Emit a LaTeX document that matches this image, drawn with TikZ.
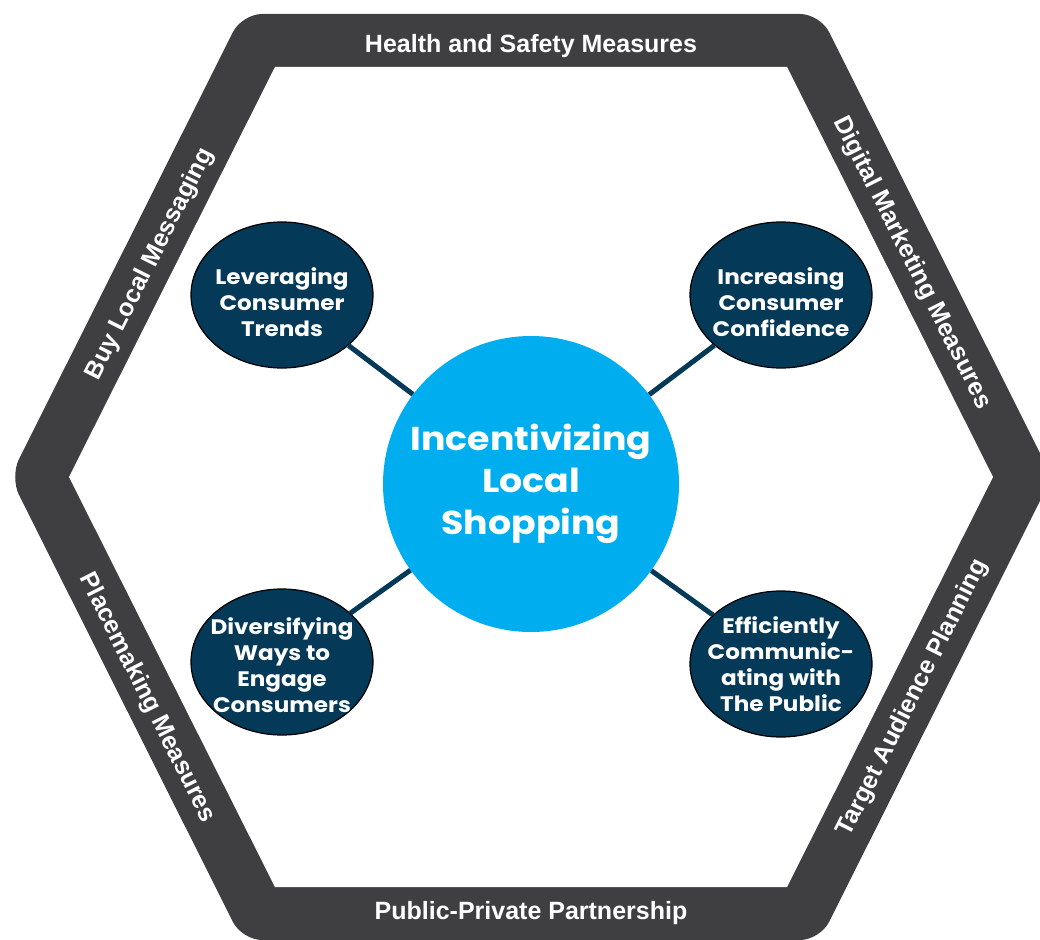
\documentclass[tikz,border=0pt]{standalone}
\usepackage{fontspec}
\setmainfont{Liberation Sans}
\newfontfamily\popfont{Poppins}[FakeStretch=1.1]
\usetikzlibrary{shapes.geometric}

\definecolor{bandgray}{RGB}{63,63,66}
\definecolor{hubblue}{RGB}{0,174,239}
\definecolor{navy}{RGB}{5,57,88}

\begin{document}
\begin{tikzpicture}[x=1pt,y=-1pt,
  bandlabel/.style={text=white,inner sep=0,font=\fontsize{25}{25}\selectfont\bfseries},
  topic/.style={ellipse,draw=black,line width=1.2pt,fill=navy,
    minimum width=182pt,minimum height=146pt,inner sep=0},
  topictext/.style={text=white,align=center,inner sep=0,
    font=\popfont\bfseries\fontsize{21}{26}\selectfont},
  hubnode/.style={circle,fill=hubblue,minimum size=296pt,inner sep=0,
    text=white,align=center,font=\popfont\bfseries\fontsize{33}{42}\selectfont},
  link/.style={draw=navy,line width=5pt}]

\useasboundingbox (0,0) rectangle (1040,939);
\clip (0,0) rectangle (1040,939);

% hexagonal frame: rounded outer outline, sharp white interior
\fill[bandgray,rounded corners=20pt]
  (242,14) -- (820,14) -- (1052,477) -- (820,940) -- (242,940) -- (10,477) -- cycle;
\fill[white]
  (275,67) -- (787,67) -- (993,477) -- (787,887) -- (275,887) -- (69,477) -- cycle;

% labels along the frame
\node[bandlabel] (top) at (531,46) {Health and Safety Measures};
\node[bandlabel] (bottom) at (531,913) {Public-Private Partnership};
\node[bandlabel,rotate=63.3] (upleft) at (150,264) {Buy Local Messaging};
\node[bandlabel,rotate=-63.3] (upright) at (912,263) {Digital Marketing Measures};
\node[bandlabel,rotate=63.3] (lowright) at (913,698) {Target Audience Planning};
\node[bandlabel,rotate=-63.3] (lowleft) at (147,698) {Placemaking Measures};

% hub and topics
\node[hubnode] (hub) at (531,484) {Incentivizing\\Local\\Shopping};

\node[topic] (lev) at (282,295) {};
\node[topic] (inc) at (781,295) {};
\node[topic] (div) at (282,662) {};
\node[topic] (eff) at (781,664) {};

\node[topictext] (levtext) at (282,302) {Leveraging\\Consumer\\Trends};
\node[topictext] (inctext) at (781,302) {Increasing\\Consumer\\Confidence};
\node[topictext] (divtext) at (282,665) {Diversifying\\Ways to\\Engage\\Consumers};
\node[topictext] (efftext) at (781,664) {Efficiently\\Communic-\\ating with\\The Public};

% spokes
\draw[link] (lev) -- (hub);
\draw[link] (inc) -- (hub);
\draw[link] (div) -- (hub);
\draw[link] (eff) -- (hub);
\end{tikzpicture}
\end{document}
